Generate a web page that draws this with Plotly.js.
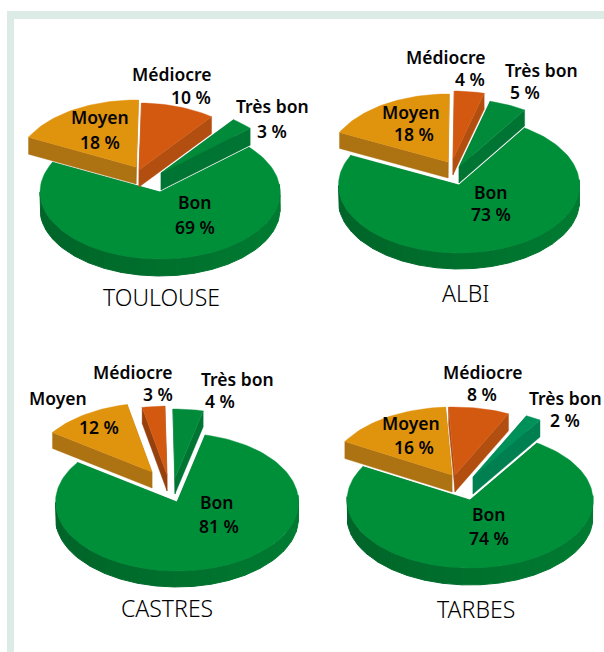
<!DOCTYPE html>
<html><head><meta charset="utf-8">
<script src="https://cdn.plot.ly/plotly-3.0.1.min.js"></script>
<style>html,body{margin:0;padding:0;background:#fff}#c{width:604px;height:652px}</style></head>
<body><div id="c"></div>
<script>
// ---- data ----
const categories = ["Bon", "Moyen", "Médiocre", "Très bon"];
const cities = ["TOULOUSE", "ALBI", "CASTRES", "TARBES"];
const toulouse = [69, 18, 10, 3];
const albi = [73, 18, 4, 5];
const castres = [81, 12, 3, 4];
const tarbes = [74, 16, 8, 2];

// ---- layout of each pie (pixels in the page) ----
const valuesByCity = [toulouse, albi, castres, tarbes];
const startAngle = [48, 33, 13.4, 33];
const radiusX = [120, 120.5, 121.5, 123];
const radiusY = [67, 68, 69, 68];
const depth = [17, 16, 16, 17];
const centers = [
  [[160,192],[136,167],[139,170],[161,173]],
  [[459,185],[448,162],[453,159],[459,167]],
  [[177,502],[152,472],[167,475],[175,478]],
  [[470,500],[452,475],[455,475],[473,477]]
];
const topColors = ["#008f39","#e0930c","#d2590f","#008a3a"];
const sideColors = ["#00702d","#ad7212","#b24f10","#007533"];
const topOverride = {"3-3":"#00905a"};
const sideOverride = {"3-3":"#008050","2-2":"#96400e"};
const nameLabelPos = [
  [[195,202],[100,117],[171,74],[272,106]],
  [[491,192],[411,111.5],[445,56.5],[541.5,69.5]],
  [[217,502],[57.5,398],[132,372],[237,378.5]],
  [[489,514],[411,423],[482,371.5],[565,397.5]]
];
const valueLabelPos = [
  [[194.5,227],[100,142],[191,96.5],[272,131]],
  [[491,213.5],[414,133.5],[470,78.5],[524.5,91.5]],
  [[219,526],[99,427],[157.5,394],[220,400.5]],
  [[489,538],[414,447],[482,393.5],[565,419.5]]
];
const cityPos = [[161,297],[465.5,293],[167,608],[476,609]];
const labelFont = {family:"'Noto Sans', sans-serif", size:17.5, color:"#050505", weight:600};
const cityFont = {family:"'Noto Sans', sans-serif", size:23, color:"#000", weight:300};

const rad = d => d*Math.PI/180;
function shade(hex, f){
  const n=parseInt(hex.slice(1),16);
  const c=[n>>16,(n>>8)&255,n&255].map(v=>Math.min(255,Math.round(v*f)));
  return `rgb(${c[0]},${c[1]},${c[2]})`;
}
const traces=[];
function poly(xs,ys,color,w){
  traces.push({type:"scatter",mode:"lines",x:xs,y:ys,fill:"toself",fillcolor:color,
    line:{width:w===undefined?0.4:w,color:color},hoverinfo:"skip",showlegend:false});
}
const annotations=[];
function note(x,y,text,font){
  annotations.push({x,y,text,font,xref:"x",yref:"y",showarrow:false,xanchor:"center",yanchor:"middle"});
}
valuesByCity.forEach((vals,ci)=>{
  let a0=startAngle[ci];
  const rx=radiusX[ci], ry=radiusY[ci], d=depth[ci];
  vals.forEach((v,si)=>{
    const span=v*3.6, a1=a0+span;
    const [vx,vy]=centers[ci][si];
    const P=t=>[vx+rx*Math.sin(rad(t)), vy-ry*Math.cos(rad(t))];
    const sideC=sideOverride[ci+"-"+si]||sideColors[si];
    const topC=topOverride[ci+"-"+si]||topColors[si];
    // cut faces
    [a0,a1].forEach(t=>{
      const p=P(t);
      poly([vx,p[0],p[0],vx,vx],[vy,p[1],p[1]+d,vy+d,vy],sideC);
    });
    // rim facets, shaded left (dark) to right (lighter)
    const nSeg=Math.max(1,Math.ceil(span/9));
    for(let i=0;i<nSeg;i++){
      const t1=a0+span*i/nSeg, t2=a0+span*(i+1)/nSeg;
      if(Math.cos(rad((t1+t2)/2))>0.05) continue;
      const f=1+0.1*Math.sin(rad((t1+t2)/2));
      const xs=[],ys=[];
      for(let k=0;k<=3;k++){const p=P(t1+(t2-t1)*k/3);xs.push(p[0]);ys.push(p[1]);}
      for(let k=3;k>=0;k--){const p=P(t1+(t2-t1)*k/3);xs.push(p[0]);ys.push(p[1]+d);}
      xs.push(xs[0]);ys.push(ys[0]);
      poly(xs,ys,shade(sideC,f),1);
    }
    // top surface
    const xs=[vx],ys=[vy];
    const n=Math.max(6,Math.ceil(span/2));
    for(let k=0;k<=n;k++){const p=P(a0+span*k/n);xs.push(p[0]);ys.push(p[1]);}
    xs.push(vx);ys.push(vy);
    poly(xs,ys,topC);
    note(nameLabelPos[ci][si][0],nameLabelPos[ci][si][1],categories[si],labelFont);
    note(valueLabelPos[ci][si][0],valueLabelPos[ci][si][1],v+" %",labelFont);
    a0=a1;
  });
  note(cityPos[ci][0],cityPos[ci][1],cities[ci],cityFont);
});
const frame="#dcebe5";
const layout={
  width:604,height:652,margin:{l:0,r:0,t:0,b:0},showlegend:false,
  paper_bgcolor:"#fff",plot_bgcolor:"#fff",hovermode:false,
  xaxis:{range:[0,604],visible:false,fixedrange:true},
  yaxis:{range:[652,0],visible:false,fixedrange:true},
  shapes:[
    {type:"rect",xref:"x",yref:"y",x0:7,x1:604,y0:11,y1:19,fillcolor:frame,line:{width:0},layer:"below"},
    {type:"rect",xref:"x",yref:"y",x0:7,x1:14,y0:11,y1:652,fillcolor:frame,line:{width:0},layer:"below"}
  ],
  annotations
};
Plotly.newPlot("c",traces,layout,{displayModeBar:false,staticPlot:true});
</script></body></html>
